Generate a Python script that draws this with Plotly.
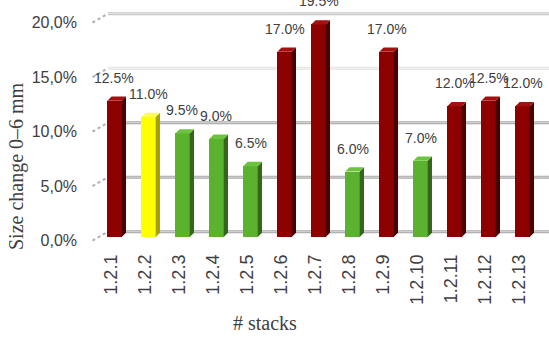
import plotly.graph_objects as go

categories = ["1.2.1", "1.2.2", "1.2.3", "1.2.4", "1.2.5", "1.2.6", "1.2.7",
              "1.2.8", "1.2.9", "1.2.10", "1.2.11", "1.2.12", "1.2.13"]
values = [12.5, 11.0, 9.5, 9.0, 6.5, 17.0, 19.5, 6.0, 17.0, 7.0, 12.0, 12.5, 12.0]
groups = ["red", "yellow", "green", "green", "green", "red", "red",
          "green", "red", "green", "red", "red", "red"]
y_ticks = [0, 5, 10, 15, 20]
y_ticktext = ["0,0%", "5,0%", "10,0%", "15,0%", "20,0%"]

# style
FRONT = {"red": "#8c0000", "yellow": "#ffff00", "green": "#5ab22e"}
SIDE = {"red": "#4a0000", "yellow": "#a3a300", "green": "#35661b"}
TOP = {"red": "#a41010", "yellow": "#ffff4d", "green": "#6cc43e"}
W = 0.4235          # bar front width (category units)
DX, DY = 0.1265, 0.394   # bar depth
BACK, FRONT_OFF = 0.486, 0.34  # wall offsets
XL, XR = -0.779, 12.779
XDIAG0, XDIAG1 = -0.647, -0.191
TICK_SHIFT = -0.1

idx = list(range(len(categories)))
fig = go.Figure()

# gridlines on back wall + diagonal depth ticks (below the bars)
grid_style = {0: ("#a8a8a8", "#d8d8d8"), 5: ("#a8a8a8", "#d8d8d8"), 10: ("#a8a8a8", "#d8d8d8"),
              15: ("#e4e4e4", "#f2f2f2"), 20: ("#c4c4c4", "#e6e6e6")}
for t in y_ticks:
    c1, c2 = grid_style[t]
    fig.add_shape(type="line", xref="x", yref="y", x0=XDIAG1, x1=XR, y0=t + BACK, y1=t + BACK,
                  line=dict(color=c1, width=3), layer="below")
    fig.add_shape(type="line", xref="x", yref="y", x0=XDIAG1, x1=XR, y0=t + BACK, y1=t + BACK,
                  line=dict(color=c2, width=1), layer="below")
    fig.add_shape(type="line", xref="x", yref="y", x0=XDIAG0, x1=XDIAG1, y0=t - FRONT_OFF, y1=t + BACK,
                  line=dict(color="#b0b0b0", width=2, dash="dot"), layer="below")

# side and top faces
for g in ["red", "yellow", "green"]:
    sx, sy, tx, ty = [], [], [], []
    for i, v, gg in zip(idx, values, groups):
        if gg != g:
            continue
        xl, xr = i - W / 2, i + W / 2
        sx += [xr, xr + DX, xr + DX, xr, xr, None]
        sy += [0, DY, v + DY, v, 0, None]
        tx += [xl, xl + DX, xr + DX, xr, xl, None]
        ty += [v, v + DY, v + DY, v, v, None]
    fig.add_trace(go.Scatter(x=sx, y=sy, fill="toself", fillcolor=SIDE[g], mode="lines",
                             line=dict(width=0, color=SIDE[g]), hoverinfo="skip", showlegend=False))
    fig.add_trace(go.Scatter(x=tx, y=ty, fill="toself", fillcolor=TOP[g], mode="lines",
                             line=dict(width=0, color=TOP[g]), hoverinfo="skip", showlegend=False))

# front faces
fig.add_trace(go.Bar(x=idx, y=values, width=W, marker=dict(color=[FRONT[g] for g in groups], line=dict(width=0)),
                     showlegend=False))

# data labels
for i, v in zip(idx, values):
    fig.add_annotation(x=i, y=v, text=f"{v:.1f}%", showarrow=False, yshift=23,
                       xanchor="center", yanchor="middle",
                       font=dict(family="Liberation Sans", size=14, color="#404040"))

# axis titles
fig.add_annotation(xref="paper", yref="paper", x=(265 - 88) / 461, y=(250 - 323) / 250,
                   xanchor="center", yanchor="middle",
                   text="# stacks", showarrow=False,
                   font=dict(family="Liberation Serif", size=20, color="#404040"))
fig.add_annotation(xref="paper", yref="paper", x=(17 - 88) / 461, y=(250 - 166) / 250,
                   xanchor="center", yanchor="middle",
                   text="Size change 0–6 mm", textangle=-90, showarrow=False,
                   font=dict(family="Liberation Serif", size=20, color="#404040"))

fig.update_layout(
    width=549, height=338, margin=dict(l=88, r=0, t=0, b=88),
    paper_bgcolor="white", plot_bgcolor="white", bargap=0,
    xaxis=dict(range=[XL, XR], tickvals=[i + TICK_SHIFT for i in idx], ticktext=categories, tickangle=-90,
               showgrid=False, zeroline=False, showline=False, ticks="",
               tickfont=dict(family="Liberation Sans", size=18, color="#404040")),
    yaxis=dict(range=[-1.193, 21.743], tickvals=[t - FRONT_OFF for t in y_ticks], ticktext=y_ticktext,
               showgrid=False, zeroline=False, showline=False, ticks="", ticklabelstandoff=10,
               tickfont=dict(family="Liberation Sans", size=16, color="#404040")),
)
fig.write_html("out.html")
